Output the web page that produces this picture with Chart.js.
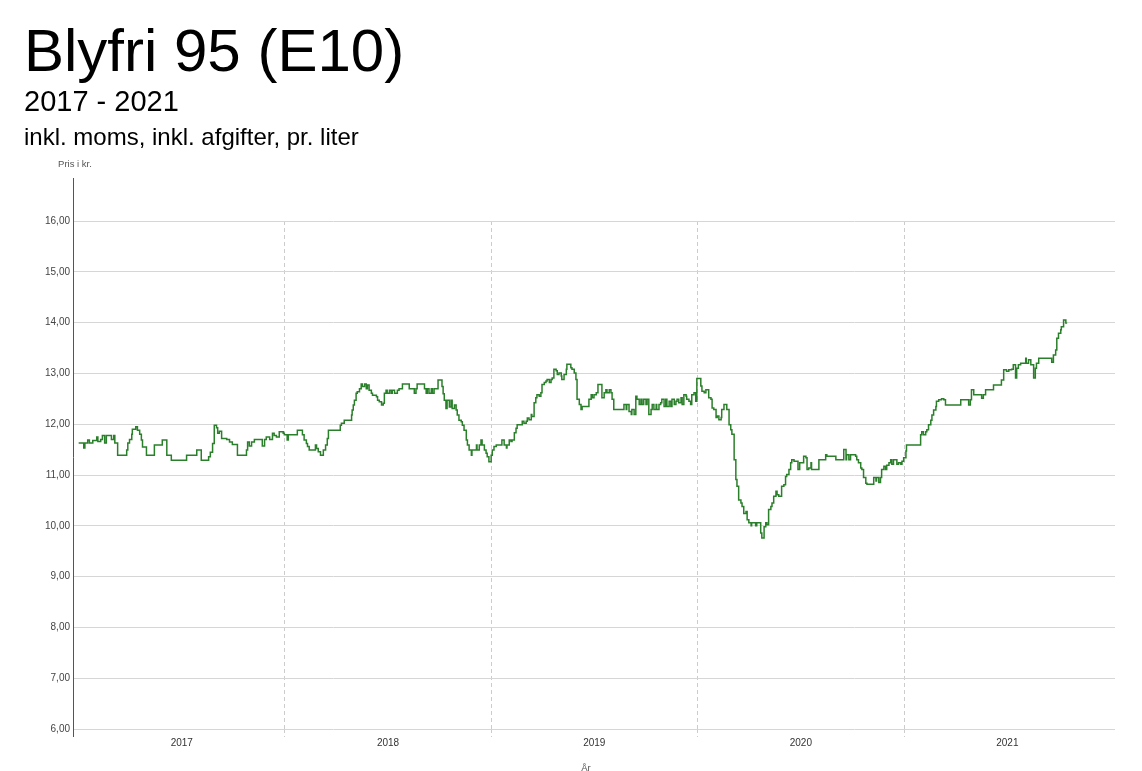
<!DOCTYPE html>
<html lang="da">
<head>
<meta charset="utf-8">
<title>Blyfri 95 (E10)</title>
<script src="https://cdn.jsdelivr.net/npm/chart.js@4/dist/chart.umd.min.js"></script>
<style>
    html, body { margin: 0; padding: 0; background: #fff; }
    body { width: 1142px; height: 771px; position: relative; overflow: hidden;
           font-family: Arial, "Liberation Sans", sans-serif; color: #000; }
    #chart { position: absolute; left: 0; top: 0; }
    .txt { position: absolute; left: 24px; white-space: nowrap; line-height: 1; }
    #title { top: 21px; font-size: 60px; }
    #years { top: 87px; font-size: 29px; }
    #unit { top: 125px; font-size: 24px; }
</style>
</head>
<body>
<canvas id="chart" width="1142" height="771"></canvas>
<div class="txt" id="title">Blyfri 95 (E10)</div>
<div class="txt" id="years">2017 - 2021</div>
<div class="txt" id="unit">inkl. moms, inkl. afgifter, pr. liter</div>

<script>
// Årstal på x-aksen
const years = [2017, 2018, 2019, 2020, 2021];

// Dage siden 1. januar 2017, hvor prisen skifter
const days = [
    0, 9, 11, 16, 19, 25, 32, 34, 39, 42, 46, 49, 58, 62, 64, 69, 85, 87, 90, 94,
    95, 101, 104, 108, 111, 113, 120, 134, 148, 156, 164, 191, 209, 217, 230, 233, 237, 240, 244, 246,
    249, 253, 262, 267, 272, 281, 297, 299, 302, 306, 311, 325, 329, 332, 338, 343, 346, 350, 355, 362,
    364, 369, 371, 387, 396, 399, 403, 405, 408, 419, 421, 424, 428, 433, 437, 440, 442, 463, 465, 470,
    483, 484, 486, 488, 491, 493, 497, 500, 502, 506, 509, 511, 514, 518, 520, 527, 529, 532, 536, 539,
    541, 544, 546, 550, 553, 555, 559, 564, 567, 573, 585, 594, 597, 599, 612, 615, 617, 620, 624, 626,
    629, 636, 643, 645, 647, 650, 652, 656, 659, 661, 665, 668, 670, 673, 677, 679, 682, 686, 688, 691,
    695, 696, 704, 705, 709, 712, 714, 718, 721, 723, 726, 730, 732, 735, 739, 749, 753, 757, 758, 762,
    765, 767, 771, 774, 776, 785, 788, 792, 794, 797, 801, 802, 806, 809, 811, 815, 818, 820, 824, 827,
    829, 833, 836, 838, 841, 845, 847, 850, 854, 855, 859, 863, 864, 871, 873, 877, 880, 882, 886, 889,
    891, 903, 907, 909, 912, 916, 919, 926, 930, 933, 935, 939, 942, 944, 947, 965, 969, 970, 974, 978,
    979, 983, 986, 988, 992, 995, 997, 1000, 1004, 1006, 1009, 1013, 1015, 1018, 1022, 1023, 1027, 1030, 1032, 1036,
    1039, 1041, 1045, 1048, 1050, 1054, 1057, 1059, 1062, 1066, 1068, 1071, 1075, 1076, 1080, 1083, 1085, 1089, 1092, 1094,
    1101, 1103, 1107, 1110, 1115, 1119, 1121, 1124, 1128, 1130, 1133, 1137, 1138, 1142, 1147, 1151, 1154, 1156, 1160, 1163,
    1165, 1168, 1172, 1174, 1177, 1181, 1183, 1186, 1190, 1191, 1198, 1200, 1207, 1209, 1213, 1216, 1218, 1221, 1225, 1227,
    1230, 1234, 1236, 1239, 1244, 1248, 1251, 1253, 1257, 1260, 1262, 1266, 1273, 1276, 1283, 1287, 1289, 1292, 1296, 1297,
    1310, 1322, 1324, 1340, 1354, 1358, 1359, 1363, 1366, 1375, 1377, 1380, 1384, 1386, 1389, 1393, 1395, 1407, 1411, 1412,
    1416, 1419, 1421, 1425, 1428, 1430, 1434, 1437, 1439, 1442, 1448, 1451, 1455, 1457, 1460, 1464, 1465, 1490, 1492, 1495,
    1499, 1501, 1504, 1508, 1510, 1513, 1517, 1518, 1522, 1527, 1531, 1534, 1561, 1575, 1578, 1580, 1584, 1598, 1601, 1605,
    1619, 1633, 1637, 1642, 1646, 1651, 1654, 1658, 1660, 1663, 1667, 1676, 1677, 1681, 1685, 1690, 1693, 1695, 1699, 1722,
    1725, 1729, 1731, 1734, 1738, 1739, 1743, 1747, 1748
];

// Pris i kr. pr. liter fra den tilsvarende dag
const prices = [
    11.63, 11.53, 11.63, 11.69, 11.63, 11.68, 11.75, 11.66, 11.70, 11.78, 11.63, 11.78, 11.70, 11.78, 11.63, 11.39, 11.49, 11.63, 11.70, 11.80,
    11.90, 11.95, 11.88, 11.80, 11.69, 11.55, 11.39, 11.59, 11.69, 11.39, 11.29, 11.39, 11.49, 11.29, 11.36, 11.45, 11.62, 11.98, 11.93, 11.82,
    11.86, 11.72, 11.70, 11.65, 11.60, 11.39, 11.49, 11.65, 11.57, 11.65, 11.70, 11.57, 11.70, 11.75, 11.70, 11.82, 11.78, 11.75, 11.85, 11.82,
    11.79, 11.69, 11.79, 11.88, 11.79, 11.69, 11.62, 11.56, 11.49, 11.59, 11.52, 11.46, 11.39, 11.49, 11.59, 11.72, 11.88, 11.98, 12.02, 12.08,
    12.18, 12.28, 12.38, 12.47, 12.61, 12.64, 12.70, 12.79, 12.74, 12.79, 12.70, 12.77, 12.67, 12.61, 12.57, 12.54, 12.47, 12.44, 12.38, 12.41,
    12.61, 12.67, 12.61, 12.67, 12.61, 12.67, 12.61, 12.67, 12.70, 12.79, 12.70, 12.61, 12.70, 12.79, 12.70, 12.61, 12.70, 12.61, 12.70, 12.61,
    12.70, 12.87, 12.74, 12.60, 12.47, 12.31, 12.47, 12.34, 12.47, 12.31, 12.38, 12.28, 12.18, 12.08, 12.05, 11.98, 11.88, 11.69, 11.59, 11.49,
    11.39, 11.49, 11.59, 11.49, 11.59, 11.69, 11.59, 11.49, 11.43, 11.36, 11.26, 11.39, 11.49, 11.56, 11.59, 11.69, 11.59, 11.53, 11.59, 11.69,
    11.66, 11.69, 11.83, 11.92, 11.99, 12.06, 12.02, 12.06, 12.12, 12.09, 12.19, 12.15, 12.42, 12.52, 12.58, 12.55, 12.62, 12.78, 12.82, 12.85,
    12.88, 12.82, 12.88, 12.91, 13.08, 13.05, 12.98, 13.01, 12.95, 12.88, 12.98, 13.08, 13.18, 13.11, 13.08, 13.01, 12.88, 12.49, 12.39, 12.29,
    12.35, 12.49, 12.58, 12.52, 12.58, 12.62, 12.78, 12.52, 12.62, 12.68, 12.62, 12.68, 12.62, 12.49, 12.29, 12.39, 12.29, 12.39, 12.25, 12.19,
    12.29, 12.19, 12.55, 12.49, 12.39, 12.49, 12.39, 12.49, 12.39, 12.49, 12.19, 12.29, 12.39, 12.29, 12.39, 12.29, 12.39, 12.42, 12.49, 12.35,
    12.49, 12.35, 12.45, 12.35, 12.49, 12.39, 12.45, 12.49, 12.42, 12.52, 12.39, 12.58, 12.55, 12.49, 12.45, 12.39, 12.58, 12.62, 12.45, 12.90,
    12.75, 12.65, 12.62, 12.68, 12.52, 12.49, 12.32, 12.29, 12.13, 12.16, 12.09, 12.13, 12.29, 12.39, 12.29, 11.99, 11.89, 11.80, 11.30, 10.91,
    10.78, 10.51, 10.45, 10.38, 10.24, 10.28, 10.12, 10.06, 10.00, 10.06, 10.00, 10.06, 9.86, 9.76, 9.98, 10.06, 10.02, 10.32, 10.38, 10.45,
    10.58, 10.68, 10.61, 10.58, 10.78, 10.81, 10.97, 11.01, 11.11, 11.24, 11.30, 11.27, 11.11, 11.24, 11.37, 11.34, 11.11, 11.14, 11.24, 11.11,
    11.30, 11.40, 11.37, 11.30, 11.50, 11.30, 11.40, 11.30, 11.40, 11.37, 11.30, 11.24, 11.14, 11.11, 10.95, 10.84, 10.82, 10.95, 10.88, 10.95,
    10.85, 10.95, 11.11, 11.17, 11.11, 11.19, 11.24, 11.30, 11.21, 11.30, 11.21, 11.24, 11.21, 11.27, 11.34, 11.47, 11.59, 11.79, 11.85, 11.79,
    11.85, 11.89, 11.99, 12.08, 12.18, 12.28, 12.35, 12.45, 12.48, 12.50, 12.48, 12.38, 12.48, 12.38, 12.48, 12.68, 12.58, 12.51, 12.58, 12.68,
    12.77, 12.87, 13.07, 13.04, 13.07, 13.08, 13.17, 12.91, 13.10, 13.17, 13.20, 13.30, 13.20, 13.27, 13.17, 12.91, 13.10, 13.20, 13.30, 13.22,
    13.36, 13.46, 13.69, 13.79, 13.86, 13.92, 14.05, 13.99, 14.00
];

// Akse-grænser
const priceMin = 6;
const priceMax = 16;

const DAY = 24 * 60 * 60 * 1000;
const dayOf = (y, m, d) => Math.round((Date.UTC(y, m, d) - Date.UTC(years[0], 0, 1)) / DAY);

// Årsskift (stiplede linjer) og midt i året (etiketter)
const yearStarts = years.slice(1).map(y => dayOf(y, 0, 1));
const yearMids = years.map(y => (dayOf(y, 0, 1) + dayOf(y + 1, 0, 1)) / 2);

const fontFamily = 'Arial, "Liberation Sans", sans-serif';

/**
 * Tegner y-aksens linje og aksetitlerne
 */
const axisTextPlugin = {
    id: 'axisText',
    afterDraw(chart) {
        const { ctx, chartArea } = chart;
        ctx.save();

        // y-aksens linje rækker op over 16,00
        ctx.strokeStyle = '#555';
        ctx.lineWidth = 1;
        ctx.beginPath();
        ctx.moveTo(chartArea.left + 0.5, chartArea.top - 43);
        ctx.lineTo(chartArea.left + 0.5, chartArea.bottom + 8);
        ctx.stroke();

        ctx.fillStyle = '#555';
        ctx.font = '9.5px ' + fontFamily;
        ctx.textAlign = 'center';
        ctx.textBaseline = 'middle';
        ctx.fillText('Pris i kr.', chartArea.left + 2, chartArea.top - 57);
        ctx.fillText('År', (chartArea.left + chartArea.right) / 2 - 8, chartArea.bottom + 39);

        ctx.restore();
    }
};

const chart = new Chart(document.getElementById('chart'), {
    type: 'line',
    data: {
        datasets: [{
            label: 'Blyfri 95 (E10)',
            data: days.map((d, i) => ({ x: d, y: prices[i] })),
            borderColor: '#2a7f2a',
            borderWidth: 1.5,
            pointRadius: 0,
            stepped: true,
            fill: false
        }]
    },
    options: {
        responsive: false,
        animation: false,
        layout: {
            padding: { top: 221, right: 27, bottom: 0, left: 0 }
        },
        plugins: {
            legend: { display: false },
            tooltip: { enabled: false }
        },
        scales: {
            x: {
                type: 'linear',
                min: -10,
                max: 1834,
                afterBuildTicks(scale) {
                    scale.ticks = [...yearStarts, ...yearMids]
                        .sort((a, b) => a - b)
                        .map(v => ({ value: v }));
                },
                afterFit(scale) {
                    scale.height = 42;
                },
                border: { display: false, dash: [4, 3] },
                grid: {
                    color: ctx => (ctx.tick && yearStarts.includes(ctx.tick.value)) ? '#cccccc' : 'rgba(0,0,0,0)',
                    lineWidth: 1,
                    drawTicks: true,
                    tickLength: 8,
                    tickBorderDash: [4, 3]
                },
                ticks: {
                    autoSkip: false,
                    maxRotation: 0,
                    padding: 0,
                    color: '#333',
                    font: { family: fontFamily, size: 10 },
                    callback(value) {
                        const i = yearMids.indexOf(value);
                        return i >= 0 ? String(years[i]) : '';
                    }
                }
            },
            y: {
                min: priceMin,
                max: priceMax,
                afterFit(scale) {
                    scale.width = 73;
                },
                border: { display: false },
                grid: {
                    color: '#d6d6d6',
                    lineWidth: 1,
                    drawTicks: false
                },
                ticks: {
                    stepSize: 1,
                    padding: 3,
                    color: '#444',
                    font: { family: fontFamily, size: 10 },
                    callback: value => value.toFixed(2).replace('.', ',')
                }
            }
        }
    },
    plugins: [axisTextPlugin]
});
</script>
</body>
</html>
